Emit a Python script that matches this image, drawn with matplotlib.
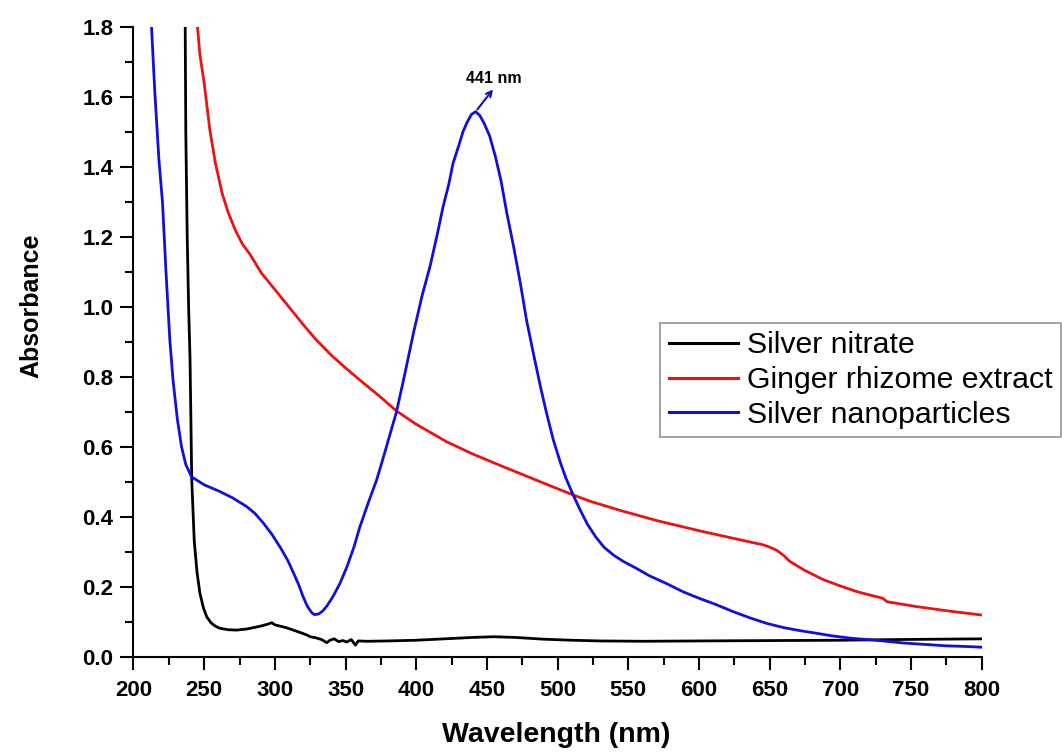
import matplotlib
matplotlib.use("Agg")
import matplotlib.pyplot as plt
from matplotlib.ticker import MultipleLocator

plt.rcParams["font.family"] = ["Liberation Sans", "DejaVu Sans"]

# Silver nitrate (black)
nitrate_nm = [236.5, 237, 238, 239, 240, 240.7, 241.2, 243, 245, 247, 249.5, 251.8, 255, 258,
              261.2, 267, 273, 280, 289.5, 295, 297.8, 300, 304, 308, 313, 318, 322, 325, 329,
              333, 336.7, 339, 342, 345, 348, 351, 354, 357, 359, 365, 380, 400, 420, 440, 455,
              470, 490, 510, 530, 560, 600, 650, 700, 740, 770, 800]
nitrate_abs = [1.86, 1.5, 1.2, 1.0, 0.85, 0.65, 0.506, 0.33, 0.24, 0.182, 0.14, 0.115, 0.097, 0.088,
               0.082, 0.078, 0.077, 0.08, 0.088, 0.094, 0.098, 0.092, 0.088, 0.084, 0.077, 0.07,
               0.064, 0.058, 0.055, 0.05, 0.041, 0.048, 0.052, 0.044, 0.047, 0.043, 0.05, 0.034,
               0.046, 0.045, 0.046, 0.048, 0.052, 0.056, 0.058, 0.056, 0.051, 0.048, 0.046, 0.045,
               0.046, 0.047, 0.048, 0.05, 0.051, 0.052]

# Ginger rhizome extract (red)
ginger_nm = [244, 247, 250, 254, 258, 262.7, 267, 272, 277, 282, 290.5, 300, 307, 314, 321, 329.3,
             340, 350, 362, 374.4, 386, 400, 421.5, 440, 459, 470, 490, 511, 523, 545, 570, 601,
             620, 638, 645, 650, 655, 660, 664, 675, 688, 700, 711.6, 720, 730, 733, 754, 777.5,
             800]
ginger_abs = [1.86, 1.72, 1.64, 1.506, 1.41, 1.325, 1.27, 1.22, 1.18, 1.153, 1.097, 1.05, 1.015,
              0.98, 0.945, 0.906, 0.862, 0.826, 0.785, 0.744, 0.703, 0.665, 0.615, 0.58, 0.548,
              0.53, 0.497, 0.463, 0.445, 0.418, 0.39, 0.36, 0.343, 0.327, 0.321, 0.314, 0.305,
              0.29, 0.274, 0.247, 0.221, 0.203, 0.187, 0.178, 0.168, 0.158, 0.144, 0.131, 0.12]

# Silver nanoparticles (blue)
nano_nm = [212, 215, 218, 220.5, 223, 225.7, 228, 231, 234, 237, 241, 250, 261, 270, 280, 286,
           292, 298, 304, 309, 313, 317, 320, 323, 326, 328, 331, 334, 337, 341, 346, 351, 356,
           360, 366, 372, 376, 381, 386, 392, 398, 404, 410, 415, 419, 423, 426, 430, 433, 436,
           439, 442, 445, 448, 452, 456, 460, 464, 469, 474, 478, 483, 488, 492, 497, 502, 506,
           511, 516, 521, 527, 533, 540, 547, 555, 565, 577, 589, 600, 612, 624, 636, 648, 660,
           672, 683, 695, 707, 719, 730, 745, 760, 775, 790, 800]
nano_abs = [1.86, 1.62, 1.42, 1.30, 1.10, 0.906, 0.79, 0.68, 0.60, 0.55, 0.515, 0.492, 0.473, 0.455,
            0.43, 0.41, 0.382, 0.35, 0.312, 0.277, 0.242, 0.205, 0.172, 0.145, 0.127, 0.121, 0.123,
            0.132, 0.147, 0.172, 0.21, 0.258, 0.315, 0.37, 0.44, 0.506, 0.56, 0.63, 0.70, 0.81,
            0.925, 1.03, 1.12, 1.21, 1.287, 1.35, 1.41, 1.46, 1.50, 1.528, 1.55, 1.558, 1.547,
            1.525, 1.488, 1.43, 1.36, 1.27, 1.17, 1.06, 0.963, 0.865, 0.77, 0.70, 0.62, 0.555, 0.51,
            0.463, 0.42, 0.38, 0.343, 0.313, 0.29, 0.272, 0.255, 0.232, 0.21, 0.186, 0.168, 0.15,
            0.13, 0.112, 0.096, 0.084, 0.075, 0.068, 0.06, 0.054, 0.05, 0.046, 0.04, 0.036, 0.032,
            0.03, 0.028]

peak_nm = 442
peak_abs = 1.558
peak_label = "441 nm"

fig = plt.figure(figsize=(10.62, 7.54), dpi=100)
ax = fig.add_axes([0.1257, 0.1286, 0.7987, 0.8356])

lw = 2.0
l1, = ax.plot(nitrate_nm, nitrate_abs, color="black", lw=lw, label="Silver nitrate")
l2, = ax.plot(ginger_nm, ginger_abs, color="#ee1111", lw=lw, label="Ginger rhizome extract")
l3, = ax.plot(nano_nm, nano_abs, color="#1010dd", lw=lw, label="Silver nanoparticles")

ax.annotate("", xy=(455.5, 1.628), xytext=(peak_nm, peak_abs),
            arrowprops=dict(arrowstyle="->", color="#1010aa", lw=1.5))
ax.text(455, 1.652, peak_label, ha="center", va="center", fontsize=11.5, fontweight="bold")

ax.set_xlim(200, 800)
ax.set_ylim(0, 1.8)
ax.xaxis.set_major_locator(MultipleLocator(50))
ax.xaxis.set_minor_locator(MultipleLocator(25))
ax.yaxis.set_minor_locator(MultipleLocator(0.1))
ax.set_yticks([0, 0.2, 0.4, 0.6, 0.8, 1.0, 1.2, 1.4, 1.6, 1.8])
ax.set_yticklabels(["%.1f" % v for v in ax.get_yticks()])

for s in ["top", "right"]:
    ax.spines[s].set_visible(False)
for s in ["left", "bottom"]:
    ax.spines[s].set_linewidth(1.5)

ax.tick_params(which="major", direction="out", length=9.5, width=1.5)
ax.tick_params(which="minor", direction="out", length=5.5, width=1.5)
ax.tick_params(axis="x", which="major", pad=7)
ax.tick_params(axis="y", which="major", pad=5)
for lab in ax.get_xticklabels() + ax.get_yticklabels():
    lab.set_fontsize(16)
    lab.set_fontweight("bold")

fig.text(0.0295, 0.595, "Absorbance", rotation=90, ha="center", va="center",
         fontsize=18, fontweight="bold")
fig.text(0.524, 0.025, "Wavelength (nm)", ha="center", va="center",
         fontsize=20.5, fontweight="bold")

leg = ax.legend(handles=[l1, l2, l3], loc="upper left", bbox_to_anchor=(0.6215, 0.5716),
                bbox_transform=fig.transFigure, fontsize=21.8, frameon=True, fancybox=False,
                edgecolor="#777777", handlelength=2.3, handletextpad=0.3, labelspacing=0.22,
                borderpad=0.28, borderaxespad=0)
leg.get_frame().set_linewidth(1.2)
for h in leg.get_lines():
    h.set_linewidth(2.2)

fig.savefig("out.png", dpi=100)
